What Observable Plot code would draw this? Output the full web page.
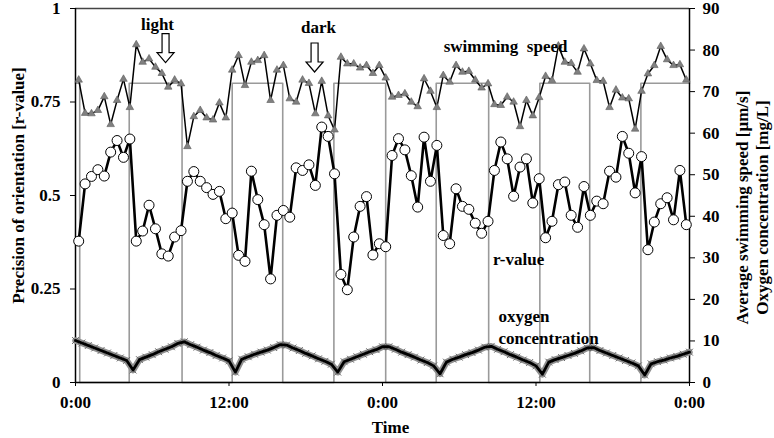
<!DOCTYPE html>
<html><head><meta charset="utf-8">
<script src="https://cdn.jsdelivr.net/npm/d3@7"></script>
<script src="https://cdn.jsdelivr.net/npm/@observablehq/plot@0.6"></script>
<style>body{margin:0;background:#fff}</style>
</head><body><div id="chart"></div>
<script>
// Sampling times (hours) for swimming speed and r-value
const times = d3.range(0.25, 48, 0.5);
// Average swimming speed [µm/s] (right axis)
const speed = [72.8, 64.8, 64.7, 65.5, 68.8, 62.1, 67.9, 73.0, 66.2, 81.3, 77.1, 77.9, 75.9, 74.4, 71.1, 72.8, 71.9, 56.8, 64.0, 65.5, 63.7, 63.2, 67.3, 63.7, 75.2,
  78.7, 71.5, 77.1, 77.5, 78.7, 67.9, 75.2, 76.3, 68.3, 67.5, 72.8, 72.0, 64.7, 72.5, 64.2, 60.8, 78.3, 76.7, 76.7, 75.7, 76.3, 74.4, 76.3, 73.3,
  68.7, 69.1, 69.5, 67.5, 66.4, 73.1, 70.1, 66.2, 73.9, 72.3, 76.3, 74.7, 74.9, 72.8, 70.9, 71.9, 66.9, 66.7, 68.7, 67.5, 61.6, 67.9, 64.2, 68.6,
  73.7, 72.7, 81.0, 77.1, 76.8, 74.7, 80.3, 76.7, 72.7, 72.5, 66.2, 70.4, 68.5, 68.3, 61.0, 70.1, 74.3, 76.3, 80.9, 77.7, 76.3, 76.5, 72.8];
// Precision of orientation [r-value] (left axis)
const rValue = [0.378, 0.531, 0.551, 0.569, 0.552, 0.616, 0.647, 0.602, 0.651, 0.378, 0.405, 0.474, 0.411, 0.344, 0.338, 0.389, 0.406, 0.538, 0.564, 0.538, 0.521, 0.503, 0.511, 0.438, 0.453,
  0.340, 0.324, 0.565, 0.489, 0.422, 0.277, 0.447, 0.460, 0.442, 0.574, 0.567, 0.582, 0.527, 0.683, 0.658, 0.558, 0.289, 0.248, 0.389, 0.471, 0.497, 0.341, 0.371, 0.363,
  0.607, 0.652, 0.622, 0.553, 0.469, 0.656, 0.538, 0.634, 0.393, 0.371, 0.518, 0.471, 0.463, 0.426, 0.399, 0.431, 0.567, 0.643, 0.598, 0.498, 0.576, 0.598, 0.480, 0.545,
  0.387, 0.431, 0.529, 0.536, 0.447, 0.415, 0.524, 0.447, 0.485, 0.478, 0.565, 0.549, 0.658, 0.613, 0.507, 0.604, 0.355, 0.429, 0.478, 0.494, 0.435, 0.567, 0.422];
// Oxygen concentration [mg/L] (right axis), every 0.5 h
const oxygenTimes = d3.range(0, 48.01, 0.5);
const oxygen = [10.1, 9.5, 8.9, 8.3, 7.7, 7.1, 6.5, 5.9, 5.3, 3.0, 5.5, 6.1, 6.7, 7.4, 8.0, 8.6, 9.4, 9.8,
  9.1, 8.5, 7.8, 7.2, 6.5, 5.9, 5.2, 2.5, 5.6, 6.2, 6.8, 7.3, 7.8, 8.4, 9.1, 9.0,
  8.3, 7.7, 7.0, 6.4, 5.7, 5.1, 4.4, 2.5, 5.0, 5.6, 6.2, 6.8, 7.4, 7.9, 8.6, 8.6,
  8.0, 7.3, 6.7, 6.1, 5.4, 4.8, 4.0, 2.1, 4.9, 5.6, 6.1, 6.7, 7.2, 7.8, 8.5, 8.7,
  8.0, 7.4, 6.7, 6.1, 5.4, 4.8, 4.0, 2.0, 4.9, 5.5, 6.0, 6.5, 7.0, 7.6, 8.3, 8.4,
  7.7, 7.1, 6.5, 5.9, 5.3, 4.7, 4.0, 1.8, 4.5, 5.0, 5.4, 5.9, 6.3, 6.8, 7.3];
// Light/dark schedule (1 = light)
const lightChangeTimes = [0, 0.33, 4.2, 8.33, 12.25, 16.2, 20.2, 24.25, 28.2, 32.3, 36.3, 40.2, 44.2, 48];
const lightStates = [1, 0, 1, 0, 1, 0, 1, 0, 1, 0, 1, 0, 1, 1];
const lightLevel = 0.8;

const leftTicks = [0, 0.25, 0.5, 0.75, 1];
const rightTicks = [0, 10, 20, 30, 40, 50, 60, 70, 80, 90];
const RIGHT_MAX = 90;
const timeTicks = [0, 12, 24, 36, 48];
const timeTickLabels = ["0:00", "12:00", "0:00", "12:00", "0:00"];

const annotations = [{label: "light", t: 6.41, v: 0.956}, {label: "dark", t: 19.0, v: 0.949}];
const arrows = [{t: 7.04, v: 0.894}, {t: 18.69, v: 0.869}];
const seriesLabels = [{label: "swimming\u00a0 speed", t: 33.62, v: 0.897}, {label: "r-value", t: 34.64, v: 0.330}];
const oxygenLabel = [{label: "oxygen\nconcentration", t: 33.07, v: 0.151}];

const series = times.map((t, i) => ({t, speed: speed[i], r: rValue[i]}));
const oxy = oxygenTimes.map((t, i) => ({t, o: oxygen[i]}));
const wave = lightChangeTimes.map((t, i) => ({t, v: lightStates[i] * lightLevel}));

const arrowSymbol = {
  draw(ctx, size) {
    const u = Math.sqrt(size / Math.PI) / 10;
    ctx.moveTo(-3.5 * u, -14.5 * u);
    ctx.lineTo(3.5 * u, -14.5 * u);
    ctx.lineTo(3.5 * u, 4.5 * u);
    ctx.lineTo(8.5 * u, 4.5 * u);
    ctx.lineTo(0, 14.5 * u);
    ctx.lineTo(-8.5 * u, 4.5 * u);
    ctx.lineTo(-3.5 * u, 4.5 * u);
    ctx.closePath();
  }
};

const chart = Plot.plot({
  width: 774, height: 438,
  marginLeft: 75, marginRight: 85, marginTop: 8, marginBottom: 56,
  style: {fontFamily: "'Liberation Serif', 'Times New Roman', serif", fontSize: "17px", fontWeight: "bold", background: "#fff", color: "#000", overflow: "visible"},
  x: {domain: [0, 48]},
  y: {domain: [0, 1]},
  marks: [
    Plot.line(wave, {x: "t", y: "v", curve: "step-after", stroke: "#9a9a9a", strokeWidth: 1.6}),
    Plot.ruleY([1], {stroke: "#444", strokeWidth: 1.5}),
    Plot.ruleY([0], {stroke: "#000", strokeWidth: 1.5}),
    Plot.ruleX([0], {stroke: "#000", strokeWidth: 1.5}),
    Plot.ruleX([48], {stroke: "#000", strokeWidth: 1.5}),
    Plot.axisX({ticks: timeTicks, tickFormat: d => timeTickLabels[timeTicks.indexOf(d)], tickSize: 4, tickPadding: 9, label: null, fontSize: 17}),
    Plot.axisY({anchor: "left", ticks: leftTicks, tickFormat: d => String(d), tickSize: 5, tickPadding: 10, label: null, fontSize: 17}),
    Plot.axisY({anchor: "right", ticks: rightTicks.map(d => d / RIGHT_MAX), tickFormat: d => String(Math.round(d * RIGHT_MAX)), tickSize: 5, tickPadding: 8, label: null, fontSize: 17}),
    // oxygen
    Plot.line(oxy, {x: "t", y: d => d.o / RIGHT_MAX, stroke: "#909090", strokeWidth: 6.5}),
    Plot.dot(oxy, {x: "t", y: d => d.o / RIGHT_MAX, symbol: "times", r: 3.2, stroke: "#666", strokeWidth: 1}),
    Plot.line(oxy, {x: "t", y: d => d.o / RIGHT_MAX, stroke: "#000", strokeWidth: 2.8}),
    // swimming speed
    Plot.line(series, {x: "t", y: d => d.speed / RIGHT_MAX, stroke: "#000", strokeWidth: 1.5}),
    Plot.dot(series, {x: "t", y: d => d.speed / RIGHT_MAX, symbol: "triangle", r: 2.8, fill: "#808080", stroke: "#5a5a5a", strokeWidth: 0.6}),
    // r-value
    Plot.line(series, {x: "t", y: "r", stroke: "#000", strokeWidth: 2.6}),
    Plot.dot(series, {x: "t", y: "r", r: 5, fill: "#fff", stroke: "#000", strokeWidth: 1}),
    // annotations
    Plot.text(annotations, {x: "t", y: "v", text: "label", fontSize: 17}),
    Plot.dot(arrows, {x: "t", y: "v", symbol: arrowSymbol, r: 10, fill: "#fff", stroke: "#000", strokeWidth: 1.2}),
    Plot.text(seriesLabels, {x: "t", y: "v", text: "label", fontSize: 17}),
    Plot.text(oxygenLabel, {x: "t", y: "v", text: "label", textAnchor: "start", lineHeight: 1.29, fontSize: 17}),
    // axis titles
    Plot.text(["Precision of orientation [r-value]"], {frameAnchor: "left", textAnchor: "middle", lineAnchor: "middle", rotate: -90, dx: -57, dy: -10, fontSize: 17}),
    Plot.text(["Average swimming speed [µm/s]\nOxygen concentration [mg/L]"], {frameAnchor: "right", textAnchor: "middle", lineAnchor: "middle", rotate: -90, dx: 62, dy: 12, lineHeight: 1.2, fontSize: 17}),
    Plot.text(["Time"], {frameAnchor: "bottom", textAnchor: "middle", lineAnchor: "middle", dx: 8, dy: 45, fontSize: 17})
  ]
});
document.getElementById("chart").appendChild(chart);
</script>
</body></html>
